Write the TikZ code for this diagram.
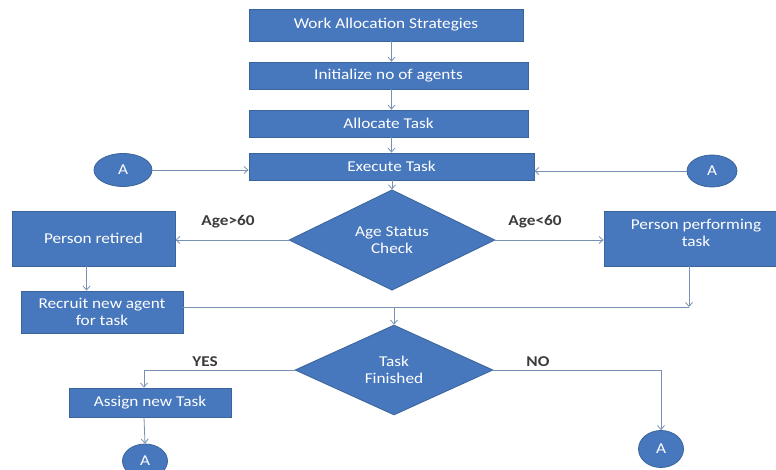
\documentclass[tikz,border=0pt]{standalone}
\usepackage{fontspec}
\setmainfont{Carlito}[FakeStretch=1.15]
\usetikzlibrary{shapes.geometric,arrows.meta,calc}
\definecolor{boxfill}{HTML}{4777BC}
\definecolor{boxline}{HTML}{3A649A}
\definecolor{conn}{HTML}{7890B4}
\definecolor{lbl}{HTML}{3C3C3C}
\begin{document}
\begin{tikzpicture}[x=1pt,y=-1pt,
  every node/.style={font=\fontsize{15}{17}\selectfont},
  rbox/.style={rectangle,draw=boxline,line width=0.8pt,fill=boxfill,text=white,inner sep=2pt,align=center},
  dbox/.style={diamond,draw=boxline,line width=0.8pt,fill=boxfill,text=white,inner sep=0pt,align=center},
  ebox/.style={ellipse,draw=boxline,line width=0.8pt,fill=boxfill,text=white,inner sep=0pt},
  conline/.style={draw=conn,line width=0.8pt},
  arr/.style={conline,-{Straight Barb[length=4pt,width=7pt]}},
  lab/.style={text=lbl,font=\fontsize{15}{17}\selectfont\bfseries}
]
\useasboundingbox (0,0) rectangle (776,470);
\node[rbox,minimum width=274pt,minimum height=32pt] (b1) at (386,25) {Work Allocation Strategies};
\node[rbox,minimum width=279pt,minimum height=27pt] (b2) at (388.5,75.5) {Initialize no of agents};
\node[rbox,minimum width=279pt,minimum height=27pt] (b3) at (388.5,123.5) {Allocate Task};
\node[rbox,minimum width=285pt,minimum height=27pt] (b4) at (391.5,166.5) {Execute Task};
\node[ebox,minimum width=58pt,minimum height=33pt] (aL) at (123,170) {A};
\node[ebox,minimum width=50pt,minimum height=32pt] (aR) at (712,171) {A};
\node[dbox,minimum width=206pt,minimum height=94pt] (d1) at (392,240) {Age Status\\Check};
\node[rbox,minimum width=163pt,minimum height=55pt] (pr) at (93.5,238.5) {Person retired};
\node[rbox,minimum width=184pt,minimum height=55pt,text depth=12pt] (pp) at (696,238.5) {Person performing\\task};
\node[rbox,minimum width=162pt,minimum height=42pt] (rn) at (102,312) {Recruit new agent\\for task};
\node[dbox,minimum width=198pt,minimum height=90pt] (d2) at (394,370) {Task\\Finished};
\node[rbox,minimum width=162pt,minimum height=29pt] (an) at (150,402.5) {Assign new Task};
\node[ebox,minimum width=45pt,minimum height=34pt] (aBL) at (145,461) {A};
\node[ebox,minimum width=45pt,minimum height=37pt] (aBR) at (661,449) {A};
\node[lab] (l1) at (228,222) {Age>60};
\node[lab] (l2) at (535,222) {Age<60};
\node[lab] (l3) at (205,362) {YES};
\node[lab] (l4) at (538,362) {NO};
\coordinate (j1) at (689,307);
\coordinate (j2) at (d2.north |- j1);
% connectors
\draw[arr] (b1.south -| b4) -- (b2.north -| b4);
\draw[arr] (b2.south -| b4) -- (b3.north -| b4);
\draw[arr] (b3.south -| b4) -- (b4.north);
\draw[arr] (aL.east) -- (aL.east -| b4.west);
\draw[arr] (aR.west) -- (aR.west -| b4.east);
\draw[arr] (b4.south -| d1) -- (d1.north);
\draw[arr] (d1.west) -- (d1.west -| pr.east);
\draw[arr] (d1.east) -- (d1.east -| pp.west);
\draw[arr] ([xshift=-7pt]pr.south) -- ([xshift=-7pt]pr.south |- rn.north);
\draw[conline] (rn.east |- j1) -- (j1);
\draw[arr] (pp.south -| j1) -- (j1);
\draw[arr] (j2) -- (d2.north);
\draw[arr] (d2.west) -| ([xshift=-6pt]an.north);
\draw[arr] ([xshift=-6pt]an.south) -- (aBL.north);
\draw[arr] (d2.east) -| (aBR.north);
\end{tikzpicture}
\end{document}
